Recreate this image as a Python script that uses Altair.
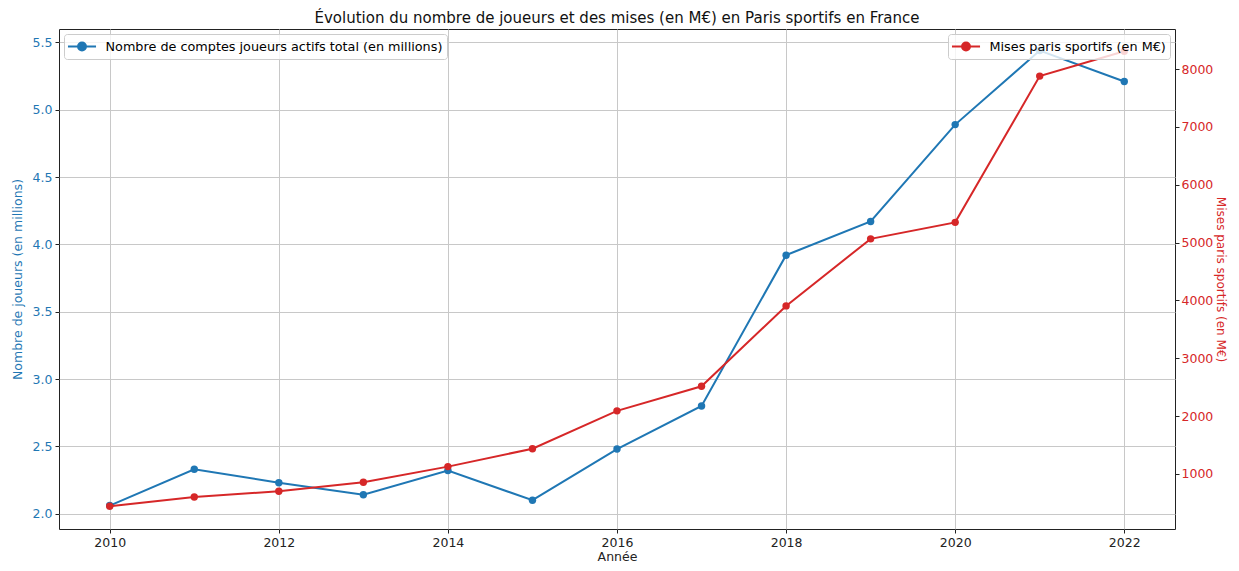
import altair as alt
import pandas as pd

annees = list(range(2010, 2023))
joueurs = [2.06, 2.33, 2.23, 2.14, 2.32, 2.10, 2.48, 2.80, 3.92, 4.17, 4.89, 5.44, 5.21]
mises = [440, 600, 700, 855, 1125, 1435, 2090, 2515, 3905, 5065, 5350, 7880, 8310]

lab_j = "Nombre de comptes joueurs actifs total (en millions)"
lab_m = "Mises paris sportifs (en M€)"
x_ticks = [2010, 2012, 2014, 2016, 2018, 2020, 2022]
yl_ticks = [2.0, 2.5, 3.0, 3.5, 4.0, 4.5, 5.0, 5.5]
yr_ticks = [1000, 2000, 3000, 4000, 5000, 6000, 7000, 8000]

BLUE = "#1f77b4"
RED = "#d62728"
FONT = "DejaVu Sans"
FS = 12.5

df_j = pd.DataFrame({"Année": annees, "val": joueurs, "serie": lab_j})
df_m = pd.DataFrame({"Année": annees, "val": mises, "serie": lab_m})

sym = "M-1.87,0L1.87,0M-0.53,0A0.53,0.53,0,1,1,0.53,0A0.53,0.53,0,1,1,-0.53,0Z"

x_enc = alt.X(
    "Année:Q",
    scale=alt.Scale(domain=[2009.4, 2022.6], nice=False, zero=False),
    axis=alt.Axis(title="Année", values=x_ticks, format="d", grid=True,
                  titlePadding=2, labelPadding=3),
)

def legend(orient, color):
    return alt.Legend(
        title=None, orient=orient, offset=5,
        symbolType=sym, symbolSize=225, symbolStrokeWidth=2,
        symbolFillColor=color, symbolStrokeColor=color, symbolOffset=5.5,
        fillColor="rgba(255,255,255,0.8)", strokeColor="#cccccc",
        cornerRadius=3, padding=4, labelFontSize=12.8, labelFont=FONT,
        labelColor="#000", labelOffset=15, labelLimit=0,
    )

blue = alt.Chart(df_j).mark_line(
    strokeWidth=2, point=alt.OverlayMarkDef(filled=True, size=55)
).encode(
    x=x_enc,
    y=alt.Y(
        "val:Q",
        scale=alt.Scale(domain=[1.886, 5.6], nice=False, zero=False),
        axis=alt.Axis(
            title="Nombre de joueurs (en millions)", orient="left",
            values=yl_ticks, format=".1f", grid=True,
            labelColor=BLUE, titleColor=BLUE, titlePadding=8,
        ),
    ),
    color=alt.Color("serie:N", scale=alt.Scale(domain=[lab_j], range=[BLUE]),
                    legend=legend("top-left", BLUE)),
)

red = alt.Chart(df_m).mark_line(
    strokeWidth=2, point=alt.OverlayMarkDef(filled=True, size=55)
).encode(
    x=x_enc,
    y=alt.Y(
        "val:Q",
        scale=alt.Scale(domain=[46, 8695], nice=False, zero=False),
        axis=alt.Axis(
            title=lab_m, orient="right",
            values=yr_ticks, format="d", grid=False,
            labelColor=RED, titleColor=RED, titlePadding=1,
            labelPadding=2, titleFontSize=12,
        ),
    ),
    color=alt.Color("serie:N", scale=alt.Scale(domain=[lab_m], range=[RED]),
                    legend=legend("top-right", RED)),
)

chart = alt.layer(blue, red).resolve_scale(
    y="independent", color="independent"
).resolve_legend(color="independent").properties(
    width=1116,
    height=500,
    title="Évolution du nombre de joueurs et des mises (en M€) en Paris sportifs en France",
    autosize=alt.AutoSizeParams(type="none"),
    padding={"left": 51, "top": 21, "right": 55, "bottom": 34},
).configure_view(
    stroke="#222", strokeWidth=1
).configure_axis(
    labelFont=FONT, titleFont=FONT, labelFontSize=FS, titleFontSize=FS,
    titleFontWeight="normal", domain=False, tickColor="#222", tickSize=4,
    labelPadding=3, gridColor="#c8c8c8", gridWidth=1, titleColor="#222",
    labelColor="#222",
).configure_title(
    font=FONT, fontSize=15, fontWeight="normal", color="#111", offset=3, anchor="middle"
)

chart.save("out.html", embed_options={"renderer": "svg", "actions": False})
